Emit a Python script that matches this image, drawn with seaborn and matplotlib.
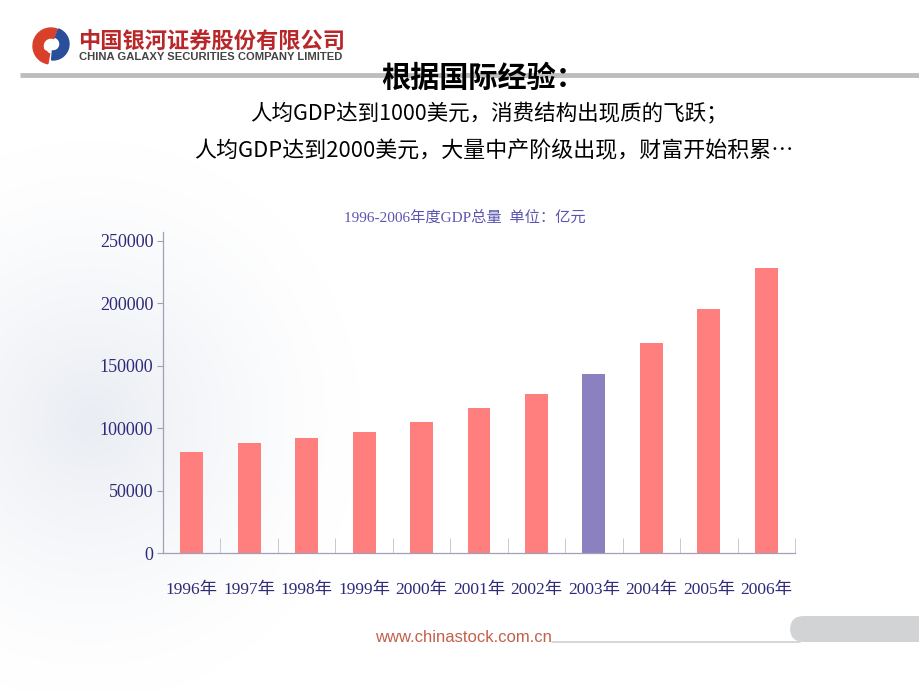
import numpy as np
import pandas as pd
import matplotlib
matplotlib.use("Agg")
import matplotlib.pyplot as plt
import seaborn as sns
from matplotlib.patches import Wedge, FancyBboxPatch, Ellipse

# ---- data ----
years = ["1996年", "1997年", "1998年", "1999年", "2000年", "2001年",
         "2002年", "2003年", "2004年", "2005年", "2006年"]
gdp = [80900, 87900, 91900, 97300, 105100, 116100,
       127400, 143800, 168000, 195400, 228200]
y_ticks = [0, 50000, 100000, 150000, 200000, 250000]
highlight_year = "2003年"

chart_title = "1996-2006年度GDP总量  单位：亿元"
heading = "根据国际经验："
line1 = "人均GDP达到1000美元，消费结构出现质的飞跃；"
line2 = "人均GDP达到2000美元，大量中产阶级出现，财富开始积累…"
company_cn = "中国银河证券股份有限公司"
company_en = "CHINA GALAXY SECURITIES COMPANY LIMITED"
website = "www.chinastock.com.cn"

sns.set_theme(style="white")
plt.rcParams['font.family'] = ['Liberation Serif', 'Noto Sans CJK SC', 'DejaVu Sans']

W, H = 920, 690
fig = plt.figure(figsize=(W / 100, H / 100), dpi=100)
fig.patch.set_facecolor("white")

# background soft shading
bg = fig.add_axes([0, 0, 1, 1], zorder=-5)
yy, xx = np.mgrid[0:H, 0:W]
d = np.sqrt(((xx - 90) / 270.0) ** 2 + ((yy - 420) / 280.0) ** 2)
shade = np.clip(1 - d, 0, 1) ** 1.4
img = np.ones((H, W, 3))
base = np.array([0.86, 0.88, 0.92])
img = img * (1 - shade[..., None] * 0.6) + base * shade[..., None] * 0.6
bg.imshow(img, extent=[0, W, H, 0], aspect="auto")
bg.set_xlim(0, W)
bg.set_ylim(H, 0)
bg.axis("off")

# header line
bg.plot([20, 920], [75, 75], color="#BDBDBD", lw=3.5, solid_capstyle="butt")
# logo
bg.add_patch(Wedge((51, 46), 18, 100, 290, width=10, color="#D8402A"))
bg.add_patch(Wedge((53, 44), 16, -70, 95, width=9, color="#2A4F9A"))
bg.add_patch(Ellipse((43, 55), 11, 9, color="#D8402A"))
bg.text(78, 42, company_cn, fontsize=16, fontweight="bold", color="#B8282A",
        va="center", ha="left", family=['Noto Sans CJK SC'])
bg.text(79, 57, company_en, fontsize=8.1, fontweight="bold", color="#444444",
        va="center", ha="left", family=['Liberation Sans', 'DejaVu Sans'])

# heading text
bg.text(483, 78, heading, fontsize=21, fontweight="bold", color="black",
        ha="center", va="center", family=['Noto Sans CJK SC'])
bg.text(489, 114, line1, fontsize=15.5, fontweight="medium", color="black",
        ha="center", va="center", family=['Noto Sans CJK SC'])
bg.text(494, 151, line2, fontsize=15.8, fontweight="medium", color="black",
        ha="center", va="center", family=['Noto Sans CJK SC'])

# chart title
bg.text(465, 218, chart_title, fontsize=11, color="#5B55B0", ha="center", va="center",
        family=['Liberation Serif', 'Noto Sans CJK SC'])

# footer
bg.text(375, 637, website, fontsize=12, color="#C2604C", ha="left", va="center",
        family=['Liberation Sans', 'DejaVu Sans'])
bg.plot([552, 800], [642, 642], color="#D0D0D0", lw=1.2)
bg.add_patch(FancyBboxPatch((790, 616), 150, 26, boxstyle="round,pad=0,rounding_size=14",
                            color="#D2D3D5", lw=0))

# ---- chart ----
ax = fig.add_axes([163 / W, 1 - 553 / H, (795 - 163) / W, (553 - 232) / H])
ax.set_facecolor("none")
df = pd.DataFrame({"year": years, "gdp": gdp})
colors = ["#8B80C0" if y == highlight_year else "#FF7F7F" for y in years]
sns.barplot(data=df, x="year", y="gdp", hue="year", palette=colors, legend=False,
            width=0.4, ax=ax, saturation=1, edgecolor="none")
ax.set_xlim(-0.5, len(years) - 0.5)
ax.set_ylim(0, 257200)
ax.set_yticks(y_ticks)
ax.set_yticklabels([str(v) for v in y_ticks])
ax.set_xlabel("")
ax.set_ylabel("")
for s in ["top", "right"]:
    ax.spines[s].set_visible(False)
for s in ["left", "bottom"]:
    ax.spines[s].set_color("#A0A0B8")
    ax.spines[s].set_linewidth(0.9)
ax.tick_params(axis="y", direction="out", length=4, width=0.8, color="#A0A0B8",
               labelsize=13, labelcolor="#2E2A78", pad=3, left=True)
ax.tick_params(axis="x", length=0, labelsize=12.5, labelcolor="#2E2A78", pad=21)
ax.set_xticks(np.arange(-0.5, len(years), 1.0), minor=True)
ax.tick_params(axis="x", which="minor", direction="in", length=11, width=0.7,
               color="#C8C8D4", bottom=True)
for lab in ax.get_xticklabels() + ax.get_yticklabels():
    lab.set_family(['Liberation Serif', 'Noto Sans CJK SC'])

fig.savefig("out.png", dpi=100)
